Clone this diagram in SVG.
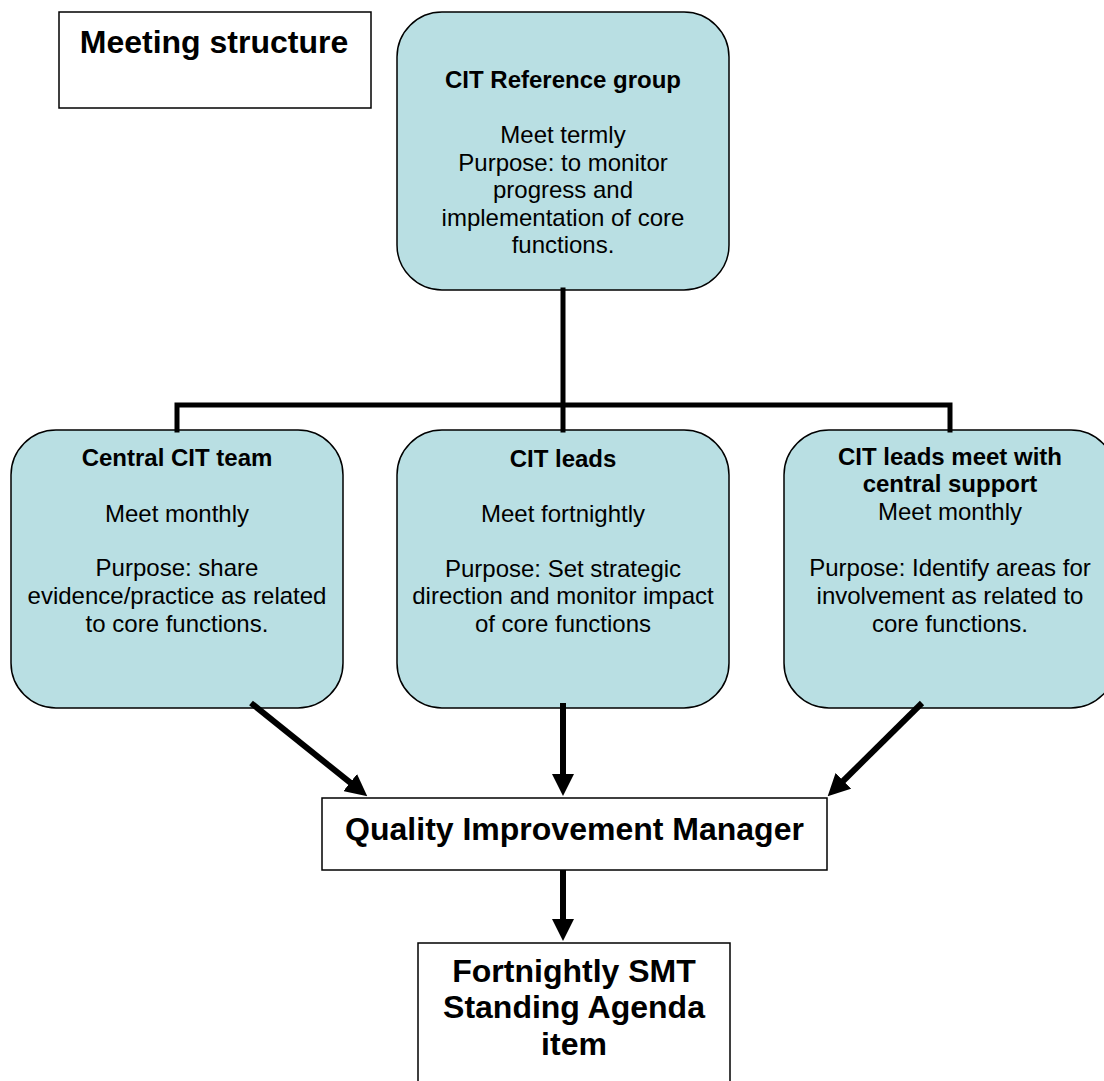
<svg xmlns="http://www.w3.org/2000/svg" width="1104" height="1081" viewBox="0 0 1104 1081">
<style>
  .box { fill: #ffffff; stroke: #000000; stroke-width: 1.5; }
  .rbox { fill: #b9dfe3; stroke: #000000; stroke-width: 1.5; }
  text { font-family: "Liberation Sans", Arial, sans-serif; fill: #000000; text-anchor: middle; }
  .t { font-size: 24px; }
  .b { font-size: 24px; font-weight: bold; }
  .big { font-size: 32px; font-weight: bold; }
  .tree { fill: none; stroke: #000000; stroke-width: 5; stroke-linejoin: miter; stroke-linecap: square; }
  .arrow { fill: none; stroke: #000000; stroke-width: 6; marker-end: url(#ah); }
</style>
<defs>
  <marker id="ah" markerUnits="userSpaceOnUse" markerWidth="22" markerHeight="22" viewBox="0 0 22 22" refX="1" refY="11" orient="auto">
    <path d="M0,0 L22,11 L0,22 z" fill="#000000"/>
  </marker>
</defs>
<rect width="1104" height="1081" fill="#ffffff"/>

<g id="meeting-structure">
  <rect class="box" x="59" y="12" width="312" height="96"/>
  <text class="big" x="214" y="53">Meeting structure</text>
</g>

<g id="cit-reference-group">
  <rect class="rbox" x="397" y="12" width="332" height="278" rx="45" ry="45"/>
  <text class="b" x="563" y="88">CIT Reference group</text>
  <text class="t" x="563" y="143">Meet termly</text>
  <text class="t" x="563" y="170.5">Purpose: to monitor</text>
  <text class="t" x="563" y="198">progress and</text>
  <text class="t" x="563" y="225.5">implementation of core</text>
  <text class="t" x="563" y="253">functions.</text>
</g>

<g id="central-cit-team">
  <rect class="rbox" x="11" y="430" width="332" height="278" rx="45" ry="45"/>
  <text class="b" x="177" y="466">Central CIT team</text>
  <text class="t" x="177" y="522">Meet monthly</text>
  <text class="t" x="177" y="576">Purpose: share</text>
  <text class="t" x="177" y="604">evidence/practice as related</text>
  <text class="t" x="177" y="632">to core functions.</text>
</g>

<g id="cit-leads">
  <rect class="rbox" x="397" y="430" width="332" height="278" rx="45" ry="45"/>
  <text class="b" x="563" y="467">CIT leads</text>
  <text class="t" x="563" y="522">Meet fortnightly</text>
  <text class="t" x="563" y="577">Purpose: Set strategic</text>
  <text class="t" x="563" y="604">direction and monitor impact</text>
  <text class="t" x="563" y="632">of core functions</text>
</g>

<g id="cit-leads-central-support">
  <rect class="rbox" x="784" y="430" width="332" height="278" rx="45" ry="45"/>
  <text class="b" x="950" y="465">CIT leads meet with</text>
  <text class="b" x="950" y="492">central support</text>
  <text class="t" x="950" y="520">Meet monthly</text>
  <text class="t" x="950" y="576">Purpose: Identify areas for</text>
  <text class="t" x="950" y="604">involvement as related to</text>
  <text class="t" x="950" y="632">core functions.</text>
</g>

<g id="quality-improvement-manager">
  <rect class="box" x="322" y="798" width="505" height="72"/>
  <text class="big" x="574.5" y="840">Quality Improvement Manager</text>
</g>

<g id="smt-agenda">
  <rect class="box" x="418" y="943" width="312" height="160"/>
  <text class="big" x="574" y="982">Fortnightly SMT</text>
  <text class="big" x="574" y="1018">Standing Agenda</text>
  <text class="big" x="574" y="1055">item</text>
</g>

<g id="connectors">
  <path class="tree" d="M563,290 V430"/>
  <path class="tree" d="M177,430 V405 H950 V430"/>
  <line class="arrow" x1="251" y1="703" x2="350.9" y2="783.2"/>
  <line class="arrow" x1="563" y1="703" x2="563" y2="775"/>
  <line class="arrow" x1="922" y1="703" x2="842.6" y2="781.5"/>
  <line class="arrow" x1="563" y1="870" x2="563" y2="920"/>
</g>
</svg>
